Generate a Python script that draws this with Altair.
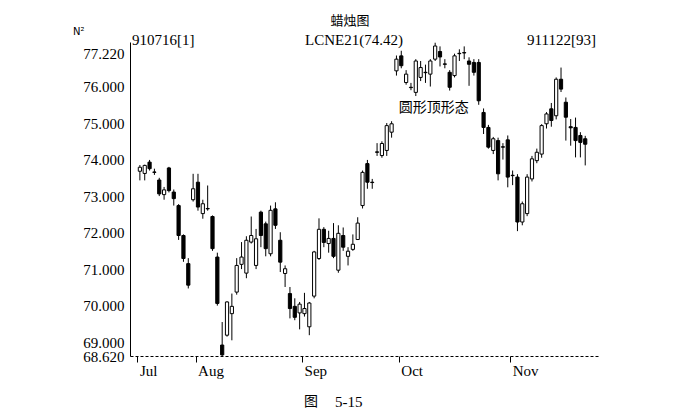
import altair as alt
import pandas as pd

# OHLC values (93 trading days, 910716 .. 911122)
opens = [73.68, 73.62, 73.93, 73.66, 73.44, 73.04, 73.77, 73.11, 72.74, 71.92,
         71.15, 72.90, 73.38, 72.52, 72.66, 72.44, 71.33, 68.92, 69.19, 69.78,
         70.37, 71.13, 70.89, 71.74, 71.10, 72.56, 72.24, 71.42, 72.65, 71.79,
         70.88, 70.33, 69.98, 69.80, 69.78, 69.42, 70.26, 71.29, 72.09, 71.70,
         71.84, 70.97, 71.92, 71.35, 71.54, 71.81, 72.74, 73.89, 73.38, 74.21,
         74.11, 74.25, 74.75, 76.43, 76.84, 76.11, 75.98, 75.84, 76.25, 76.39,
         76.34, 76.75, 76.96, 76.62, 76.39, 76.30, 76.91, 76.93, 76.70, 76.66,
         76.66, 75.29, 74.88, 74.25, 74.52, 74.35, 74.54, 73.57, 73.52, 72.29,
         72.52, 73.47, 73.97, 74.15, 74.98, 75.39, 75.20, 76.20, 75.57, 74.90,
         74.88, 74.66, 74.57]
highs = [73.85, 73.86, 73.99, 73.75, 73.50, 73.25, 73.80, 73.18, 72.78, 71.95,
         71.30, 73.61, 73.61, 72.90, 73.29, 72.47, 71.45, 69.55, 70.12, 70.33,
         71.30, 71.74, 71.90, 72.44, 72.10, 72.60, 72.30, 72.74, 72.83, 72.01,
         71.10, 70.51, 70.20, 70.10, 70.35, 70.10, 71.50, 72.39, 72.15, 72.05,
         72.26, 72.20, 72.14, 71.60, 71.95, 72.42, 73.70, 73.99, 73.47, 74.45,
         74.50, 75.00, 75.05, 76.85, 76.98, 76.45, 76.10, 76.75, 76.70, 76.60,
         76.75, 77.20, 77.10, 76.75, 76.45, 76.90, 77.02, 77.10, 76.80, 76.75,
         76.75, 75.40, 74.95, 74.62, 74.60, 74.45, 74.66, 73.70, 73.60, 72.85,
         73.60, 74.10, 74.30, 74.97, 75.30, 75.55, 76.25, 76.52, 75.70, 75.11,
         75.15, 74.75, 74.65]
lows = [73.43, 73.43, 73.70, 73.58, 73.00, 72.90, 73.10, 72.74, 71.80, 71.20,
        70.47, 72.85, 72.60, 72.38, 72.60, 71.50, 70.00, 68.62, 69.15, 69.05,
        70.30, 71.00, 70.75, 71.70, 71.00, 71.60, 71.35, 71.35, 72.10, 70.92,
        70.51, 69.65, 69.60, 69.35, 69.70, 69.19, 70.20, 71.25, 71.60, 71.45,
        71.30, 70.90, 71.50, 71.10, 71.50, 71.80, 72.66, 73.20, 73.20, 74.10,
        74.05, 74.10, 74.60, 76.30, 76.50, 76.05, 75.90, 75.74, 76.15, 76.10,
        76.00, 76.70, 76.55, 76.50, 75.89, 76.25, 76.70, 76.75, 76.02, 76.30,
        75.50, 74.70, 74.30, 74.15, 73.43, 74.00, 73.24, 73.30, 72.04, 72.20,
        72.45, 73.40, 73.90, 74.05, 74.85, 74.90, 75.10, 75.85, 74.52, 74.38,
        74.06, 74.06, 73.84]
closes = [73.79, 73.84, 73.75, 73.65, 73.06, 73.17, 73.15, 72.93, 71.92, 71.29,
          70.56, 73.20, 72.70, 72.79, 72.65, 71.56, 70.06, 68.65, 70.10, 69.98,
          71.10, 71.33, 71.79, 71.92, 71.83, 71.92, 71.56, 72.61, 72.20, 71.19,
          71.01, 69.92, 69.68, 70.04, 69.92, 70.07, 71.47, 72.09, 71.73, 71.84,
          71.35, 71.98, 71.60, 71.49, 71.68, 72.26, 73.65, 73.38, 73.37, 74.20,
          74.44, 74.93, 74.98, 76.75, 76.57, 76.34, 75.97, 76.70, 76.52, 76.38,
          76.70, 77.11, 76.81, 76.61, 75.98, 76.84, 76.90, 76.92, 76.61, 76.39,
          75.61, 74.88, 74.34, 74.57, 73.61, 74.34, 73.52, 73.56, 72.29, 72.79,
          73.52, 74.02, 74.20, 74.93, 75.25, 75.07, 76.20, 75.93, 75.16, 74.87,
          74.52, 74.47, 74.42]

month_ticks = [-0.5, 11.5, 33.5, 53.5, 76.5]
month_labels = ["Jul", "Aug", "Sep", "Oct", "Nov"]
y_ticks = [68.62, 69, 70, 71, 72, 73, 74, 75, 76, 77.22]

df = pd.DataFrame({
    "i": list(range(len(opens))),
    "open": opens, "high": highs, "low": lows, "close": closes,
})
df["up"] = df["close"] >= df["open"]

label_expr = " : ".join(
    f"datum.value == {v} ? '{l}'" for v, l in zip(month_ticks, month_labels)
) + " : ''"

SERIF = "Liberation Serif"
CJK = "Noto Sans CJK SC"

xscale = alt.Scale(domain=[-1.01, 94.02], nice=False, zero=False)
yscale = alt.Scale(domain=[68.62, 77.22], nice=False, zero=False)

x_axis = alt.Axis(values=month_ticks, labelExpr=label_expr, domain=True,
                  domainDash=[3, 2], domainColor="black", domainWidth=1,
                  tickColor="black", tickSize=6, tickWidth=1,
                  labelAlign="left", labelOffset=2, labelPadding=1,
                  labelFont=SERIF, labelFontSize=15, labelColor="black",
                  grid=False, labelFlush=False, labelOverlap=False)
y_axis = alt.Axis(values=y_ticks, format=".3f", ticks=False, grid=False,
                  domain=True, domainColor="black", domainWidth=1, labelPadding=6,
                  labelFont=SERIF, labelFontSize=15, labelColor="black",
                  labelOverlap=False, labelFlush=False, labelBound=False,
                  labelOffset=alt.condition("datum.value > 77", alt.value(11), alt.value(0)))


def X(field):
    return alt.X(field, scale=xscale, axis=x_axis, title=None)


def Y(field):
    return alt.Y(field, scale=yscale, axis=y_axis, title=None)


base = alt.Chart(df)

wicks = base.mark_rule(color="black", strokeWidth=1).encode(
    x=X("i:Q"), y=Y("low:Q"), y2="high:Q",
)

bodies = base.mark_bar(size=3.2, stroke="black", strokeWidth=1).encode(
    x=X("i:Q"), y=Y("open:Q"), y2="close:Q",
    fill=alt.condition("datum.up", alt.value("white"), alt.value("black")),
)

def label(text, xpx, ypx, size=15, font=SERIF, align="left"):
    return alt.Chart(pd.DataFrame({"t": [text]})).mark_text(
        font=font, fontSize=size, color="black", align=align, baseline="middle"
    ).encode(text="t:N", x=alt.value(xpx), y=alt.value(ypx))

title_txt = label("蜡烛图", 220, -21, size=13, font=CJK, align="center")
left_txt = label("910716[1]", 2, -2)
mid_txt = label("LCNE21(74.42)", 175, -2)
right_txt = label("911122[93]", 397, -2)
icon_txt = label("N²", -57, -10, size=10, font="DejaVu Sans")
cap1 = label("图", 181, 360, size=14, font=CJK, align="center")
cap2 = label("5-15", 205, 360, size=15, font=SERIF, align="left")

note_df = pd.DataFrame({"t": ["圆形顶形态"], "i": [53.5], "p": [75.42]})
note = alt.Chart(note_df).mark_text(
    font=CJK, fontSize=14, color="black", align="left", baseline="middle"
).encode(x=X("i:Q"), y=Y("p:Q"), text="t:N")

chart = alt.layer(
    wicks, bodies, note, title_txt, left_txt, mid_txt, right_txt, icon_txt, cap1, cap2
).properties(
    width=470, height=314,
    padding={"left": 122, "top": 34, "right": 80, "bottom": 54},
    autosize=alt.AutoSizeParams(type="none"),
    background="white",
).configure_view(strokeWidth=0)

chart.save("out.html", embed_options={"renderer": "svg", "actions": False})
